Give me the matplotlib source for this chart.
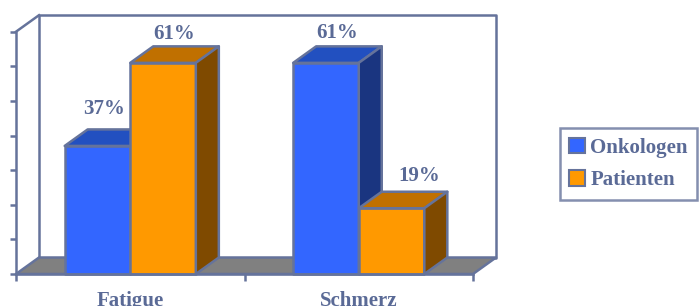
import matplotlib.pyplot as plt
from matplotlib.patches import Polygon, Patch

# data
categories = ["Fatigue", "Schmerz"]
series = ["Onkologen", "Patienten"]
onkologen = [37, 61]
patienten = [61, 19]

# styling
front_cols = ["#3366FF", "#FF9900"]
top_cols = ["#2250C0", "#C07000"]
side_cols = ["#1A3580", "#7F4A00"]
edge = "#65739B"
txt = "#5A6A96"
font = "Liberation Serif"

W, H = 699, 306
fig = plt.figure(figsize=(W / 100, H / 100), dpi=100)
# front plane of the plot area in pixels: x 16..473, y 274 (0%) .. 31.7 (70%)
ax = fig.add_axes([16 / W, 1 - 274 / H, (473 - 16) / W, (274 - 31.7) / H])
ymax = 70
ax.set_xlim(-0.5, 1.5)
ax.set_ylim(0, ymax)

# depth offsets in data units (23 px right, 16.5 px up)
dx = 23 / (457 / 2)
dy = 16.5 / ((274 - 31.7) / ymax)
bw = 0.287
lw = 1.8

def poly(pts, fc, z):
    ax.add_patch(Polygon(pts, closed=True, facecolor=fc, edgecolor=edge,
                         lw=lw, joinstyle="round", clip_on=False, zorder=z))

x0, x1 = ax.get_xlim()
# back wall
poly([(x0 + dx, dy), (x1 + dx, dy), (x1 + dx, ymax + dy), (x0 + dx, ymax + dy)], "white", 1)
# left wall top edge
ax.plot([x0, x0 + dx], [ymax, ymax + dy], color=edge, lw=lw, clip_on=False, zorder=1)
# floor
poly([(x0, 0), (x1, 0), (x1 + dx, dy), (x0 + dx, dy)], "#808080", 2)

# label nudges (x in category units, y in % units)
label_off = [[(-0.02, 3.0), (0, 0.8)], [(0, 1.0), (0.07, 1.8)]]
z = 3
for i, cat in enumerate(categories):
    for j, vals in enumerate([onkologen, patienten]):
        h = vals[i]
        a = i - bw + j * bw
        b = a + bw
        poly([(a, 0), (b, 0), (b, h), (a, h)], front_cols[j], z)
        poly([(a, h), (b, h), (b + dx, h + dy), (a + dx, h + dy)], top_cols[j], z)
        poly([(b, 0), (b + dx, dy), (b + dx, h + dy), (b, h)], side_cols[j], z)
        z += 1
        ox, oy = label_off[i][j]
        ax.text((a + b) / 2 + dx / 2 + ox, h + dy + oy, f"{h}%", ha="center", va="bottom",
                fontsize=15, fontweight="bold", color=txt, family=font, zorder=20)

for s in ["top", "right"]:
    ax.spines[s].set_visible(False)
for s in ["left", "bottom"]:
    ax.spines[s].set_color(edge)
    ax.spines[s].set_linewidth(lw)
    ax.spines[s].set_zorder(10)
ax.set_yticks(range(0, ymax + 1, 10))
ax.set_yticklabels([])
ax.tick_params(axis="y", length=4, width=lw, color=edge)
ax.set_xticks(range(len(categories)))
ax.set_xticklabels(categories, fontsize=15, fontweight="bold", color=txt, family=font)
ax.tick_params(axis="x", which="major", length=0, pad=12)
ax.set_xticks([-0.5, 0.5, 1.5], minor=True)
ax.tick_params(axis="x", which="minor", length=5, width=lw, color=edge)
ax.patch.set_visible(False)

handles = [Patch(facecolor=c, edgecolor=edge, lw=1.5) for c in front_cols]
leg = fig.legend(handles, series, loc="center left", bbox_to_anchor=(560 / W, 1 - 164 / H),
                 prop={"family": font, "weight": "bold", "size": 15},
                 frameon=True, fancybox=False, edgecolor=edge,
                 handlelength=0.75, handleheight=0.75, handletextpad=0.25,
                 labelspacing=0.6, borderpad=0.45, borderaxespad=0)
leg.get_frame().set_linewidth(lw)
for t in leg.get_texts():
    t.set_color(txt)

fig.savefig("out.png", dpi=100)
